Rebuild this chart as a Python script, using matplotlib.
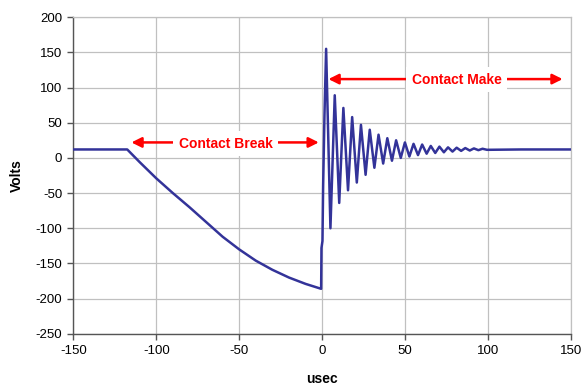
import matplotlib
matplotlib.use('Agg')
import matplotlib.pyplot as plt

plt.rcParams['font.family'] = ['Liberation Sans', 'DejaVu Sans']
plt.rcParams['axes.unicode_minus'] = False

# waveform (usec, volts)
t_flat = [-150, -135, -117.5]
v_flat = [12, 12, 12]

t_fall = [-110, -100, -90, -80, -70, -60, -50, -40, -30, -20, -10, -0.6]
v_fall = [-6, -29, -50, -70, -91, -112, -130, -146, -159, -170, -179, -186]

t_edge = [-0.4, 0.2, 0.6, 1.4, 2.4]
v_edge = [-128, -118, -40, 60, 155]

t_ring = [5.0, 7.6, 10.3, 12.8, 15.6, 18.1, 20.9, 23.4, 26.2, 28.7, 31.5, 34.0,
          36.8, 39.3, 42.1, 44.6, 47.4, 49.9, 52.6, 55.1, 57.8, 60.3, 63.0, 65.5,
          68.2, 70.7, 73.4, 75.9, 78.6, 81.1, 83.8, 86.3, 89.0, 91.5, 94.2, 96.7,
          99.4, 120, 150]
v_ring = [-100, 89, -64, 71, -46, 58, -35, 47, -24, 40, -14, 33,
          -8, 28, -4, 25, 0, 22, 2, 20, 4, 19, 6, 17,
          7, 16, 8, 15, 9, 14.5, 10, 14, 10.5, 13.5, 11, 13,
          11.5, 12, 12]

t = t_flat + t_fall + t_edge + t_ring
v = v_flat + v_fall + v_edge + v_ring

xticks = [-150, -100, -50, 0, 50, 100, 150]
yticks = [-250, -200, -150, -100, -50, 0, 50, 100, 150, 200]

fig = plt.figure(figsize=(5.82, 3.90), dpi=100)
ax = fig.add_axes([0.126, 0.144, 0.855, 0.812])

ax.plot(t, v, color='#333399', lw=1.8, solid_joinstyle='round', zorder=3)

ax.set_xlim(-150, 150)
ax.set_ylim(-250, 200)
ax.set_xticks(xticks)
ax.set_yticks(yticks)
ax.grid(True, color='#c0c0c0', lw=0.9, zorder=0)
ax.set_axisbelow(True)
for s in ['top', 'right']:
    ax.spines[s].set_color('#c0c0c0')
    ax.spines[s].set_linewidth(0.9)
for s in ['left', 'bottom']:
    ax.spines[s].set_color('#555555')
    ax.spines[s].set_linewidth(1.0)
ax.tick_params(direction='out', length=4, width=1, color='#555555',
               labelsize=9.5, pad=4)

ax.set_xlabel('usec', fontsize=10, fontweight='bold', labelpad=11)
ax.set_ylabel('Volts', fontsize=10, fontweight='bold', labelpad=8)

red = '#ff0000'
arrow = dict(arrowstyle='<|-|>', color=red, lw=1.8, mutation_scale=15, shrinkA=0, shrinkB=0)

ax.annotate('', xy=(-115, 22), xytext=(-2, 22), arrowprops=arrow, zorder=4)
ax.text(-58, 20, 'Contact Break', color=red, fontsize=10, fontweight='bold',
        ha='center', va='center', zorder=5,
        bbox=dict(facecolor='white', edgecolor='none', pad=4))

ax.annotate('', xy=(3.8, 112), xytext=(145, 112), arrowprops=arrow, zorder=4)
ax.text(81, 111, 'Contact Make', color=red, fontsize=10, fontweight='bold',
        ha='center', va='center', zorder=5,
        bbox=dict(facecolor='white', edgecolor='none', pad=4))

plt.savefig('out.png', dpi=100)
